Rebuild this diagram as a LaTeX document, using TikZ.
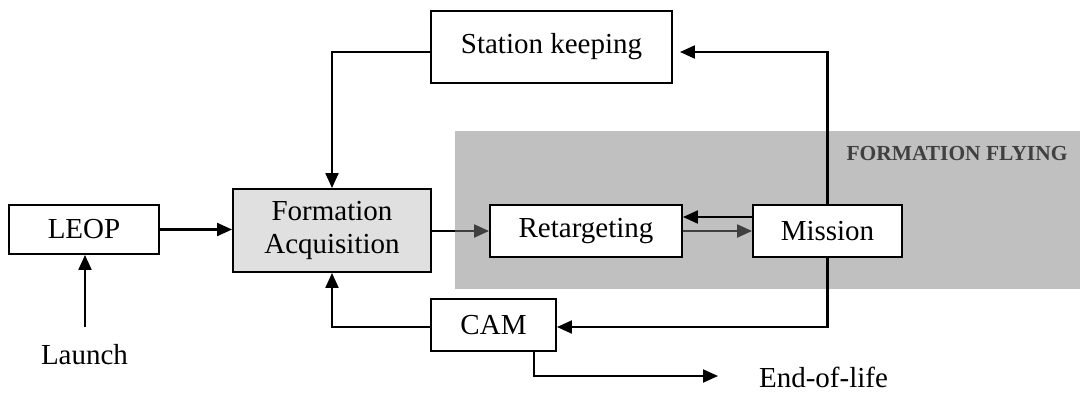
\documentclass[tikz,border=0pt]{standalone}
\usepackage{fontspec}
\setmainfont{Liberation Serif}
\usepackage{xcolor}
\usetikzlibrary{arrows.meta,positioning}
\definecolor{ffgray}{HTML}{C0C0C0}
\definecolor{dkgray}{HTML}{404040}
\definecolor{fagray}{HTML}{E0E0E0}
\tikzset{
  blk/.style={rectangle,draw=black,fill=white,line width=1.1pt,inner sep=2pt,font=\fontsize{16.5}{19}\selectfont},
  blkfa/.style={blk,fill=fagray,align=center},
  lab/.style={font=\fontsize{16.5}{19}\selectfont},
  region/.style={rectangle,fill=ffgray,inner sep=0pt},
  fftext/.style={font=\bfseries\fontsize{12.2}{14}\selectfont,text=dkgray},
  plain/.style={line width=1.2pt,black},
  flow/.style={line width=1.2pt,black,-{Triangle[length=3mm,width=2.6mm]}},
  flowgray/.style={flow,dkgray}
}
\begin{document}
\begin{tikzpicture}
  \useasboundingbox (0,0) rectangle (21.6,7.84);
  \node[region,minimum width=12.5cm,minimum height=3.16cm] (ff) at (15.35,3.64) {};
  \node[fftext] (fflab) at (19.14,4.76) {FORMATION FLYING};
  \node[blk,minimum width=3.0cm,minimum height=0.98cm] (leop) at (1.68,3.25) {LEOP};
  \node[blkfa,minimum width=3.96cm,minimum height=1.66cm] (fa) at (6.64,3.23) {Formation\\Acquisition};
  \node[blk,minimum width=4.82cm,minimum height=1.44cm] (sk) at (11.03,6.9) {Station keeping};
  \node[blk,minimum width=3.84cm,minimum height=1.04cm] (ret) at (11.72,3.22) {Retargeting};
  \node[blk,minimum width=2.98cm,minimum height=1.04cm] (mis) at (16.55,3.22) {Mission};
  \node[blk,minimum width=2.5cm,minimum height=1.04cm] (cam) at (9.87,1.34) {CAM};
  \node[lab] (launch) at (1.69,0.74) {Launch};
  \node[lab,anchor=west,inner sep=1pt] (eol) at (15.14,0.3) {End-of-life};
  \coordinate (lc) at (1.7,1.3);
  \coordinate (eolin) at (14.36,0.32);
  \draw[flow] (lc) -- (lc |- leop.south);
  \draw[flow] (leop.east) -- (leop.east -| fa.west);
  \draw[flowgray] (fa.east |- ret.west) -- (ret.west);
  \draw[plain] (fa.east |- ret.west) -- (ff.west |- ret.west);
  \draw[flowgray] (ret.east) -- (mis.west);
  \draw[flow] ([xshift=0.04cm,yshift=0.28cm]mis.west) -- ([yshift=0.28cm]mis.west -| ret.east);
  \draw[flow,shorten >=0.14cm] (mis.north) |- ([yshift=-0.1cm]sk.east);
  \draw[flow] ([yshift=-0.1cm]sk.west) -| (fa.north);
  \draw[flow] (mis.south) |- ([yshift=-0.04cm]cam.east);
  \draw[flow] ([yshift=-0.04cm]cam.west) -| (fa.south);
  \draw[flow] ([xshift=0.81cm]cam.south) |- (eolin);
\end{tikzpicture}
\end{document}
